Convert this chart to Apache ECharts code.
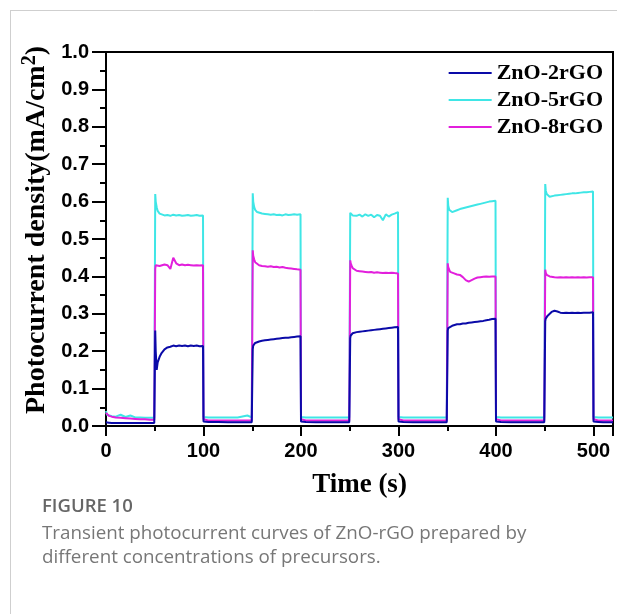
<!DOCTYPE html>
<html>
<head>
<meta charset="utf-8">
<script src="https://cdn.jsdelivr.net/npm/echarts@6/dist/echarts.min.js"></script>
<style>
html,body{margin:0;padding:0;background:#fff;}
#c{width:617px;height:614px;}
</style>
</head>
<body>
<div id="c"></div>
<script>
// Time (s)
const time = [0,1,3,6,10,15,20,25,30,35,40,45,49.5,
50,50.5,51,52,53,55,57,60,63,66,69,72,75,78,81,84,87,90,93,96,99.5,
100,100.5,105,115,125,135,145,149.5,
150,150.5,151,152,153,155,157,160,163,166,169,172,175,178,181,184,187,190,193,196,199.5,
200,200.5,205,215,225,235,245,249.5,
250,250.5,251,252,253,255,257,260,263,266,269,272,275,278,281,284,287,290,293,296,299.5,
300,300.5,305,315,325,335,345,349.5,
350,350.5,351,352,353,355,357,360,363,366,369,372,375,378,381,384,387,390,393,396,399.5,
400,400.5,405,415,425,435,445,449.5,
450,450.5,451,452,453,455,457,460,463,466,469,472,475,478,481,484,487,490,493,496,499.5,
500,500.5,505,510,515,520];

// ZnO-2rGO
const zno2 = [0.010,0.009,0.009,0.008,0.008,0.008,0.008,0.008,0.008,0.008,0.008,0.008,0.008,
0.008,0.255,0.200,0.150,0.170,0.185,0.195,0.205,0.210,0.212,0.215,0.213,0.215,0.214,0.215,0.213,0.215,0.214,0.215,0.213,0.214,
0.012,0.011,0.011,0.011,0.010,0.010,0.010,0.010,
0.010,0.205,0.215,0.218,0.222,0.225,0.226,0.228,0.229,0.230,0.231,0.232,0.233,0.234,0.235,0.236,0.236,0.237,0.238,0.239,0.240,
0.012,0.011,0.011,0.010,0.010,0.010,0.010,0.010,
0.010,0.235,0.242,0.246,0.248,0.250,0.251,0.252,0.253,0.254,0.255,0.256,0.257,0.258,0.259,0.260,0.261,0.262,0.263,0.264,0.265,
0.012,0.011,0.011,0.010,0.010,0.010,0.010,0.010,
0.010,0.255,0.262,0.262,0.265,0.268,0.270,0.272,0.272,0.274,0.274,0.276,0.277,0.278,0.279,0.280,0.281,0.283,0.284,0.286,0.287,
0.012,0.011,0.011,0.010,0.010,0.010,0.010,0.010,
0.010,0.280,0.287,0.290,0.295,0.300,0.305,0.308,0.306,0.303,0.302,0.303,0.302,0.303,0.302,0.303,0.302,0.303,0.303,0.303,0.304,
0.012,0.011,0.011,0.010,0.010,0.010];

// ZnO-5rGO
const zno5 = [0.040,0.030,0.028,0.026,0.025,0.030,0.024,0.028,0.023,0.023,0.022,0.022,0.022,
0.022,0.620,0.600,0.585,0.575,0.568,0.565,0.563,0.564,0.562,0.565,0.563,0.564,0.562,0.563,0.564,0.562,0.563,0.564,0.562,0.563,
0.024,0.023,0.023,0.023,0.023,0.023,0.028,0.023,
0.023,0.622,0.600,0.585,0.578,0.572,0.570,0.568,0.567,0.566,0.565,0.566,0.564,0.565,0.563,0.566,0.564,0.565,0.566,0.565,0.566,
0.024,0.023,0.023,0.023,0.023,0.023,0.023,0.023,
0.023,0.570,0.566,0.565,0.563,0.566,0.562,0.565,0.560,0.566,0.562,0.565,0.558,0.564,0.562,0.550,0.566,0.560,0.565,0.568,0.572,
0.024,0.023,0.023,0.023,0.023,0.023,0.023,0.023,
0.023,0.610,0.590,0.578,0.574,0.572,0.574,0.577,0.580,0.582,0.584,0.586,0.588,0.590,0.592,0.594,0.596,0.598,0.600,0.601,0.602,
0.024,0.023,0.023,0.023,0.023,0.023,0.023,0.023,
0.023,0.647,0.630,0.620,0.615,0.613,0.614,0.616,0.617,0.618,0.619,0.620,0.621,0.622,0.622,0.623,0.624,0.625,0.625,0.626,0.627,
0.024,0.023,0.023,0.023,0.023,0.023];

// ZnO-8rGO
const zno8 = [0.035,0.030,0.027,0.025,0.023,0.022,0.021,0.020,0.019,0.018,0.018,0.017,0.017,
0.017,0.420,0.430,0.432,0.430,0.428,0.430,0.432,0.430,0.420,0.450,0.435,0.430,0.432,0.430,0.431,0.430,0.429,0.430,0.429,0.430,
0.018,0.016,0.015,0.015,0.015,0.015,0.015,0.015,
0.015,0.470,0.455,0.445,0.438,0.433,0.430,0.428,0.427,0.426,0.427,0.425,0.426,0.424,0.425,0.423,0.422,0.421,0.420,0.419,0.418,
0.018,0.016,0.015,0.015,0.015,0.015,0.015,0.015,
0.015,0.443,0.435,0.428,0.422,0.418,0.415,0.414,0.413,0.412,0.411,0.412,0.410,0.411,0.410,0.409,0.410,0.409,0.410,0.409,0.408,
0.018,0.016,0.015,0.015,0.015,0.015,0.015,0.015,
0.015,0.435,0.425,0.418,0.412,0.410,0.408,0.405,0.404,0.398,0.390,0.386,0.390,0.394,0.397,0.398,0.399,0.400,0.399,0.400,0.400,
0.018,0.016,0.015,0.015,0.015,0.015,0.015,0.015,
0.015,0.418,0.410,0.404,0.401,0.400,0.399,0.398,0.397,0.398,0.397,0.398,0.397,0.398,0.397,0.398,0.397,0.398,0.397,0.398,0.398,
0.018,0.016,0.015,0.015,0.015,0.015];

const seriesNames = ['ZnO-2rGO','ZnO-5rGO','ZnO-8rGO'];
const xTicks = [0,100,200,300,400,500];

const pair = arr => time.map((t,i)=>[t,arr[i]]);

const chart = echarts.init(document.getElementById('c'), null, {renderer:'canvas'});
const serif = 'Liberation Serif';
const sans = 'Liberation Sans';
chart.setOption({
  animation:false,
  backgroundColor:'#fff',
  grid:{left:106,top:52,right:4,bottom:188,show:true,borderColor:'#000',borderWidth:2,backgroundColor:'transparent'},
  legend:{
    orient:'vertical', right:9, top:57, itemWidth:43, itemHeight:2, itemGap:5, icon:'rect',
    data:seriesNames,
    textStyle:{fontFamily:serif,fontWeight:'bold',fontSize:22,color:'#000'}
  },
  xAxis:{
    type:'value', min:0, max:520, interval:100,
    name:'Time (s)', nameLocation:'middle', nameGap:46,
    nameTextStyle:{fontFamily:serif,fontWeight:'bold',fontSize:27,color:'#000'},
    axisLine:{lineStyle:{color:'#000',width:2}},
    axisTick:{show:true,inside:false,length:10,lineStyle:{color:'#000',width:2}},
    minorTick:{show:true,splitNumber:2,length:5,lineStyle:{color:'#000',width:2}},
    splitLine:{show:false},
    axisLabel:{margin:15,fontFamily:sans,fontWeight:'bold',fontSize:20,color:'#000',showMaxLabel:false,
      formatter:v=> xTicks.indexOf(v)>=0 ? String(v) : ''}
  },
  yAxis:{
    type:'value', min:0, max:1, interval:0.1,
    name:'{a|Photocurrent density(mA/cm}{b|2}{a|)}', nameLocation:'middle', nameGap:52, nameRotate:90,
    nameTextStyle:{padding:[0,0,0,18],rich:{
      a:{fontFamily:serif,fontWeight:'bold',fontSize:28,color:'#000'},
      b:{fontFamily:serif,fontWeight:'bold',fontSize:20,color:'#000',verticalAlign:'top',padding:[0,0,12,0]}
    }},
    axisLine:{lineStyle:{color:'#000',width:2}},
    axisTick:{show:true,inside:false,length:14,lineStyle:{color:'#000',width:2}},
    minorTick:{show:true,splitNumber:2,length:6,lineStyle:{color:'#000',width:2}},
    splitLine:{show:false},
    axisLabel:{margin:17,fontFamily:sans,fontWeight:'bold',fontSize:20,color:'#000',
      formatter:v=>v.toFixed(1)}
  },
  series:[
    {name:'ZnO-5rGO',type:'line',data:pair(zno5),symbol:'none',lineStyle:{color:'#3fe6e6',width:2},itemStyle:{color:'#3fe6e6'},z:2},
    {name:'ZnO-8rGO',type:'line',data:pair(zno8),symbol:'none',lineStyle:{color:'#e21fdc',width:2},itemStyle:{color:'#e21fdc'},z:3},
    {name:'ZnO-2rGO',type:'line',data:pair(zno2),symbol:'none',lineStyle:{color:'#0a0aa8',width:2},itemStyle:{color:'#0a0aa8'},z:4}
  ],
  graphic:[
    {type:'line',shape:{x1:10,y1:10.5,x2:617,y2:10.5},style:{stroke:'#cfcfcf',lineWidth:1},silent:true},
    {type:'line',shape:{x1:10.5,y1:10,x2:10.5,y2:614},style:{stroke:'#cfcfcf',lineWidth:1},silent:true},
    {type:'text',left:42,top:497,style:{text:'FIGURE 10',font:'600 18.5px "Open Sans"',fill:'#666'}},
    {type:'text',left:42,top:524,style:{text:'Transient photocurrent curves of ZnO-rGO prepared by',font:'18.8px "Open Sans"',fill:'#777'}},
    {type:'text',left:42,top:548,style:{text:'different concentrations of precursors.',font:'18.8px "Open Sans"',fill:'#777'}}
  ]
});
</script>
</body>
</html>
